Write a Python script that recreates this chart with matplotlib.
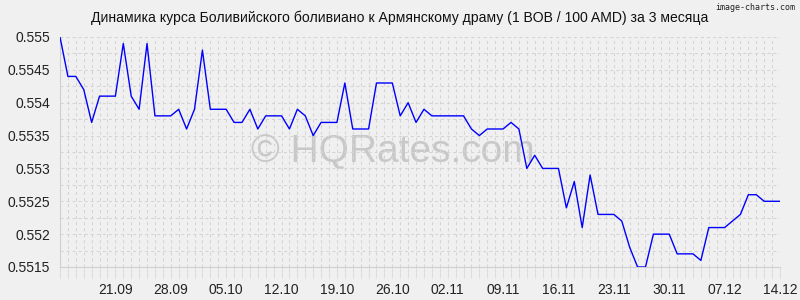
import numpy as np
import pandas as pd
import matplotlib
matplotlib.use("Agg")
import matplotlib.pyplot as plt
import matplotlib.dates as mdates
from matplotlib.ticker import MultipleLocator, FuncFormatter

plt.rcParams['font.family'] = ['Liberation Sans', 'DejaVu Sans']

# daily rate, 1 BOB / 100 AMD
start_date = '2023-09-14'
rates = [
    0.5550, 0.5544, 0.5544, 0.5542, 0.5537, 0.5541, 0.5541, 0.5541, 0.5549, 0.5541,
    0.5539, 0.5549, 0.5538, 0.5538, 0.5538, 0.5539, 0.5536, 0.5539, 0.5548, 0.5539,
    0.5539, 0.5539, 0.5537, 0.5537, 0.5539, 0.5536, 0.5538, 0.5538, 0.5538, 0.5536,
    0.5539, 0.5538, 0.5535, 0.5537, 0.5537, 0.5537, 0.5543, 0.5536, 0.5536, 0.5536,
    0.5543, 0.5543, 0.5543, 0.5538, 0.5540, 0.5537, 0.5539, 0.5538, 0.5538, 0.5538,
    0.5538, 0.5538, 0.5536, 0.5535, 0.5536, 0.5536, 0.5536, 0.5537, 0.5536, 0.5530,
    0.5532, 0.5530, 0.5530, 0.5530, 0.5524, 0.5528, 0.5521, 0.5529, 0.5523, 0.5523,
    0.5523, 0.5522, 0.5518, 0.5515, 0.5515, 0.5520, 0.5520, 0.5520, 0.5517, 0.5517,
    0.5517, 0.5516, 0.5521, 0.5521, 0.5521, 0.5522, 0.5523, 0.5526, 0.5526, 0.5525,
    0.5525, 0.5525,
]
dates = pd.date_range(start_date, periods=len(rates), freq='D')
tick_dates = pd.date_range('2023-09-21', dates[-1], freq='7D')

title = 'Динамика курса Боливийского боливиано к Армянскому драму (1 BOB / 100 AMD) за 3 месяца'
bg = '#f0f0f0'
gridc = '#d4d4d4'

fig = plt.figure(figsize=(8, 3), dpi=100, facecolor=bg)
ax = fig.add_axes([0.075, 0.11, 0.9, 0.7667], facecolor=bg)

# watermark
ax.text(0.463, 0.5, '© HQRates.com', transform=ax.transAxes, ha='center', va='center',
        fontsize=28, color='#c8c8c8', zorder=1)

ax.plot(dates, rates, color='#0000ff', lw=1, zorder=3)

ax.set_xlim(dates[0], dates[-1])
ax.set_ylim(0.5515, 0.555)
ax.yaxis.set_major_locator(MultipleLocator(0.0005))
ax.yaxis.set_minor_locator(MultipleLocator(0.00025))
ax.yaxis.set_major_formatter(FuncFormatter(lambda v, p: ('%.4f' % v).rstrip('0')))
ax.set_xticks(tick_dates)
ax.xaxis.set_major_formatter(mdates.DateFormatter('%d.%m'))
ax.xaxis.set_minor_locator(mdates.DayLocator())

ax.grid(which='both', axis='both', color=gridc, lw=0.75, ls=(0, (2.9, 2.9)), zorder=0)
ax.tick_params(axis='y', which='both', length=0, labelsize=10, pad=7, labelcolor='#222222')
ax.tick_params(axis='x', which='both', length=8, width=0.75, color='#dddddd',
               labelsize=10, pad=3.5, labelcolor='#222222')
for s in ['top', 'right']:
    ax.spines[s].set_visible(False)
for s in ['left', 'bottom']:
    ax.spines[s].set_color('#cfcfcf')
    ax.spines[s].set_linewidth(0.8)

fig.text(0.5, 0.94, title, ha='center', va='center', fontsize=10.1, color='#111111')
fig.text(0.994, 0.975, 'image-charts.com', ha='right', va='center', fontsize=6,
         color='#222222', family='DejaVu Sans Mono')

fig.savefig('out.png', dpi=100, facecolor=bg)
